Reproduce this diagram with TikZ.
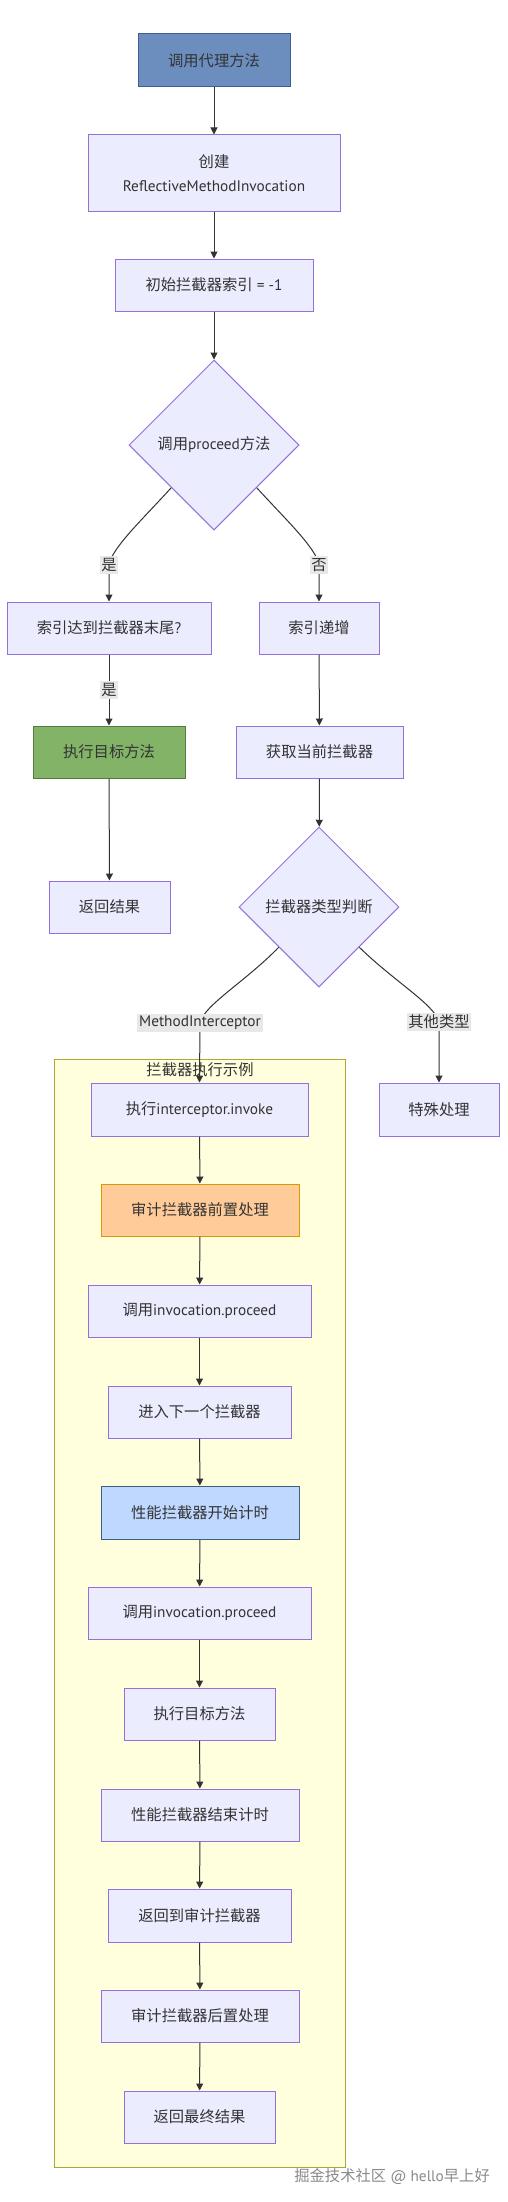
\documentclass[tikz,border=0pt]{standalone}
\usepackage{fontspec}
\setmainfont{Noto Sans CJK SC}
\newfontfamily\lt{PT Sans}
\usetikzlibrary{shapes.geometric,arrows.meta}
\definecolor{nodefill}{HTML}{ECECFF}
\definecolor{nodeline}{HTML}{9370DB}
\definecolor{textcol}{HTML}{333333}
\definecolor{edgecol}{HTML}{333333}
\definecolor{lblbg}{HTML}{E8E8E8}
\definecolor{clfill}{HTML}{FFFFDE}
\definecolor{clline}{HTML}{AAAA33}
\definecolor{afill}{HTML}{6C8EBF}
\definecolor{aline}{HTML}{3F5F91}
\definecolor{gfill}{HTML}{82B366}
\definecolor{gline}{HTML}{557A42}
\definecolor{ofill}{HTML}{FFCC99}
\definecolor{oline}{HTML}{D79B00}
\definecolor{bfill}{HTML}{BFD8FF}
\definecolor{bline}{HTML}{3F5F7F}
\definecolor{wmcol}{HTML}{8A8A8A}
\tikzset{
  box/.style={draw=nodeline, fill=nodefill, line width=1pt, inner sep=0pt,
    minimum height=52pt, text=textcol},
  dia/.style={diamond, aspect=1, draw=nodeline, fill=nodefill, line width=1pt,
    inner sep=0pt, text=textcol},
  edge/.style={draw=edgecol, line width=1pt, -{Triangle[length=7pt,width=7pt]}},
  lbl/.style={fill=lblbg, inner xsep=1pt, inner ysep=2pt, text=textcol},
  cluster/.style={draw=clline, fill=clfill, line width=1pt},
}
\begin{document}
\begin{tikzpicture}[x=1pt,y=1pt,font=\fontsize{15.3}{18}\selectfont]
\useasboundingbox[fill=white] (0,0) rectangle (507,-2202);

% cluster
\draw[cluster] (54,-1059) rectangle (345,-2167);
\node[text=textcol] (cltitle) at (200,-1070) {拦截器执行示例};

% top chain
\node[box, minimum width=152pt, minimum height=53pt, fill=afill, draw=aline] (A) at (214,-60.5) {调用代理方法};
\node[box, minimum width=252pt, minimum height=76pt, align=center,
  font=\fontsize{15.3}{24}\selectfont] (B) at (214,-173) {创建\\{\lt ReflectiveMethodInvocation}};
\node[box, minimum width=198pt] (C) at (214,-285) {初始拦截器索引{\lt\ = -1}};
\node[dia, minimum width=170pt, minimum height=170pt] (D) at (214,-445) {调用{\lt proceed}方法};

\node[box, minimum width=204pt] (E) at (109,-628) {索引达到拦截器末尾{\lt ?}};
\node[box, minimum width=120pt] (F) at (319,-628) {索引递增};
\node[box, minimum width=152pt, fill=gfill, draw=gline] (G) at (109,-752) {执行目标方法};
\node[box, minimum width=167pt] (H) at (319.5,-752) {获取当前拦截器};
\node[box, minimum width=121pt] (I) at (109.5,-907) {返回结果};
\node[dia, minimum width=160pt, minimum height=160pt] (J) at (319,-907) {拦截器类型判断};

\node[box, minimum width=217pt, minimum height=53pt] (K) at (199.5,-1109.5) {执行{\lt interceptor.invoke}};
\node[box, minimum width=120pt, minimum height=53pt] (X) at (439,-1109.5) {特殊处理};
\node[box, minimum width=198pt, fill=ofill, draw=oline] (L) at (200,-1210) {审计拦截器前置处理};
\node[box, minimum width=223pt] (M) at (199.5,-1311) {调用{\lt invocation.proceed}};
\node[box, minimum width=183pt] (N) at (199.5,-1412) {进入下一个拦截器};
\node[box, minimum width=198pt, minimum height=53pt, fill=bfill, draw=bline] (O) at (200,-1512.5) {性能拦截器开始计时};
\node[box, minimum width=223pt] (P) at (199.5,-1613) {调用{\lt invocation.proceed}};
\node[box, minimum width=151pt] (Q) at (199.5,-1714) {执行目标方法};
\node[box, minimum width=198pt] (R) at (200,-1815) {性能拦截器结束计时};
\node[box, minimum width=183pt, minimum height=53pt] (S) at (199.5,-1915.5) {返回到审计拦截器};
\node[box, minimum width=198pt] (T) at (200,-2016) {审计拦截器后置处理};
\node[box, minimum width=151pt] (U) at (199.5,-2117) {返回最终结果};

% edges
\draw[edge] (A) -- (B);
\draw[edge] (B) -- (C);
\draw[edge] (C) -- (D);
\draw[edge] (D.south west) .. controls (140,-522) and (112,-548) .. (109,-565)
  node[lbl] {是} -- (E.north);
\draw[edge] (D.south east) .. controls (288,-522) and (316,-548) .. (319,-565)
  node[lbl] {否} -- (F.north);
\draw[edge] (E) -- node[lbl] {是} (G);
\draw[edge] (G) -- (I);
\draw[edge] (F) -- (H);
\draw[edge] (H) -- (J);
\draw[edge] (J.south west) .. controls (245,-982) and (204,-1005) .. (200,-1023)
  node[lbl, inner xsep=2pt] {\lt MethodInterceptor} -- (K.north);
\draw[edge] (J.south east) .. controls (395,-982) and (435,-1005) .. (439,-1022)
  node[lbl] {其他类型} -- (X.north);
\draw[edge] (K) -- (L);
\draw[edge] (L) -- (M);
\draw[edge] (M) -- (N);
\draw[edge] (N) -- (O);
\draw[edge] (O) -- (P);
\draw[edge] (P) -- (Q);
\draw[edge] (Q) -- (R);
\draw[edge] (R) -- (S);
\draw[edge] (S) -- (T);
\draw[edge] (T) -- (U);

% watermark
\node[text=wmcol, anchor=east, inner sep=0pt] (wm) at (490,-2177) {掘金技术社区{\lt\ @ hello}早上好};
\end{tikzpicture}
\end{document}
